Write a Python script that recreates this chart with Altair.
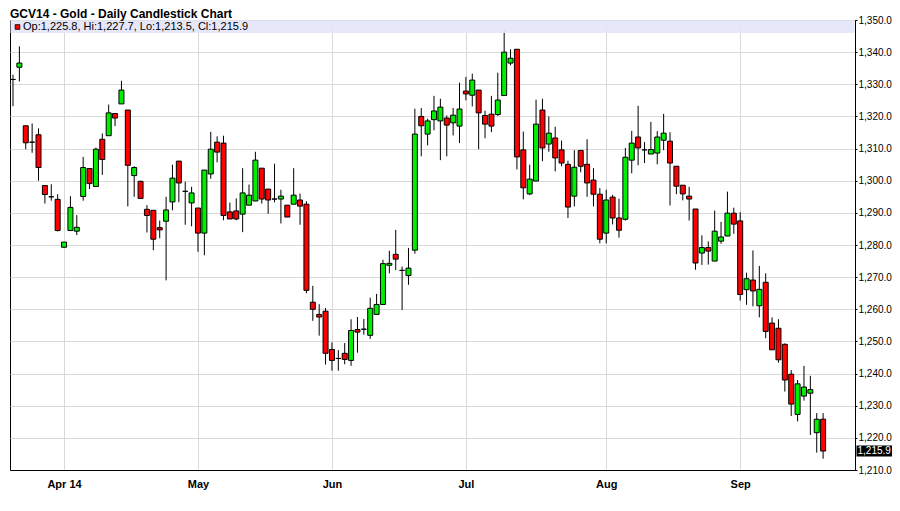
import altair as alt
import pandas as pd

# Daily OHLC values, Mar 20 .. Sep 19, 2014
opens = [1331.5, 1335.3, 1317.1, 1312.0, 1314.3, 1298.5, 1295.0, 1294.2, 1279.3, 1284.5,
         1284.3, 1295.1, 1303.8, 1298.2, 1312.9, 1314.0, 1320.9, 1323.9, 1322.0, 1301.6,
         1299.8, 1291.1, 1290.8, 1285.4, 1287.4, 1293.4, 1306.1, 1296.7, 1293.1, 1291.5,
         1283.7, 1302.1, 1312.0, 1311.7, 1290.3, 1290.6, 1289.6, 1292.4, 1293.7, 1303.9,
         1297.4, 1294.3, 1294.3, 1292.4, 1292.7, 1294.0, 1292.7, 1262.2, 1258.4, 1259.4,
         1247.5, 1244.7, 1246.3, 1244.1, 1253.7, 1253.8, 1251.9, 1258.4, 1261.5, 1273.7,
         1277.1, 1272.1, 1270.5, 1278.4, 1320.0, 1314.5, 1319.0, 1318.6, 1319.5, 1318.0,
         1317.0, 1327.9, 1326.6, 1328.2, 1320.3, 1320.7, 1320.6, 1326.5, 1336.6, 1340.9,
         1309.6, 1295.9, 1299.9, 1322.0, 1311.4, 1313.3, 1309.6, 1305.1, 1295.2, 1309.4,
         1305.1, 1300.2, 1295.8, 1283.7, 1294.9, 1288.4, 1288.0, 1306.4, 1313.6, 1309.6,
         1308.3, 1308.6, 1312.6, 1312.3, 1304.5, 1298.6, 1295.2, 1291.2, 1277.5, 1279.2,
         1275.0, 1281.2, 1282.8, 1289.9, 1287.5, 1266.1, 1269.1, 1261.1, 1268.4, 1255.7,
         1254.1, 1249.1, 1239.8, 1227.3, 1233.0, 1233.9, 1221.6, 1225.8]
highs = [1333.0, 1341.8, 1317.1, 1317.8, 1316.3, 1298.5, 1298.9, 1295.8, 1280.9, 1295.2,
         1289.3, 1307.4, 1303.8, 1310.3, 1314.7, 1323.7, 1320.9, 1331.1, 1322.0, 1304.5,
         1300.0, 1292.4, 1290.8, 1287.6, 1295.0, 1305.0, 1306.1, 1299.7, 1298.1, 1291.5,
         1303.3, 1315.2, 1313.8, 1314.0, 1293.2, 1294.5, 1303.9, 1298.8, 1309.0, 1303.9,
         1297.4, 1305.3, 1297.2, 1292.4, 1303.9, 1296.0, 1293.6, 1267.3, 1261.6, 1260.4,
         1249.7, 1247.3, 1249.5, 1256.9, 1257.6, 1257.0, 1263.6, 1264.8, 1275.4, 1278.2,
         1284.7, 1273.3, 1279.1, 1322.4, 1322.6, 1319.3, 1326.4, 1325.5, 1320.3, 1322.6,
         1330.5, 1332.3, 1333.3, 1328.2, 1321.8, 1326.4, 1333.6, 1346.9, 1340.9, 1340.9,
         1315.3, 1305.0, 1325.2, 1325.5, 1320.0, 1316.8, 1312.5, 1306.2, 1309.5, 1309.6,
         1312.9, 1303.9, 1297.7, 1297.2, 1295.6, 1294.4, 1310.2, 1315.5, 1323.3, 1312.0,
         1318.3, 1315.4, 1320.8, 1315.1, 1304.5, 1298.6, 1298.1, 1291.2, 1283.0, 1281.1,
         1290.7, 1287.2, 1296.6, 1291.6, 1290.2, 1271.4, 1278.3, 1273.5, 1271.2, 1257.5,
         1256.9, 1249.4, 1241.1, 1238.0, 1242.4, 1239.3, 1227.7, 1227.7]
lows = [1323.2, 1330.9, 1309.8, 1308.7, 1300.0, 1292.9, 1293.8, 1284.2, 1279.3, 1284.5,
        1283.1, 1293.8, 1297.4, 1298.2, 1301.8, 1314.0, 1317.0, 1323.9, 1292.0, 1295.0,
        1294.5, 1283.9, 1278.4, 1282.1, 1269.0, 1290.8, 1293.3, 1286.3, 1285.8, 1277.9,
        1276.8, 1300.6, 1305.7, 1287.7, 1288.1, 1287.7, 1284.0, 1292.4, 1293.7, 1292.9,
        1289.7, 1293.3, 1286.7, 1288.7, 1292.7, 1286.3, 1265.0, 1256.4, 1251.8, 1242.8,
        1240.9, 1240.9, 1242.9, 1242.4, 1246.5, 1252.1, 1250.8, 1258.4, 1261.5, 1271.2,
        1272.2, 1259.8, 1267.6, 1277.3, 1307.6, 1311.0, 1315.7, 1306.4, 1307.6, 1314.1,
        1311.7, 1325.0, 1323.1, 1309.8, 1313.2, 1315.1, 1320.1, 1326.5, 1335.9, 1303.5,
        1294.2, 1295.5, 1299.9, 1306.1, 1309.0, 1302.9, 1304.5, 1288.4, 1292.0, 1302.6,
        1295.0, 1292.0, 1280.5, 1280.5, 1286.4, 1282.3, 1287.6, 1302.3, 1304.8, 1305.5,
        1308.3, 1305.1, 1309.5, 1292.3, 1295.8, 1293.9, 1287.6, 1272.3, 1273.8, 1273.9,
        1275.0, 1280.4, 1282.8, 1283.5, 1262.7, 1261.4, 1260.9, 1257.5, 1251.0, 1247.4,
        1243.4, 1234.4, 1226.8, 1225.1, 1231.6, 1220.9, 1215.4, 1213.5]
closes = [1331.5, 1336.6, 1311.8, 1312.0, 1304.1, 1295.7, 1295.0, 1284.5, 1280.9, 1291.7,
          1285.5, 1304.1, 1299.1, 1309.8, 1306.6, 1321.1, 1319.5, 1328.2, 1304.8, 1304.1,
          1294.5, 1289.2, 1281.8, 1284.7, 1290.9, 1300.8, 1299.3, 1296.7, 1296.2, 1283.7,
          1303.3, 1309.8, 1308.9, 1289.2, 1288.1, 1288.1, 1296.2, 1295.5, 1306.4, 1294.3,
          1294.0, 1294.3, 1295.2, 1288.7, 1295.5, 1292.1, 1265.9, 1260.0, 1257.6, 1246.3,
          1244.1, 1244.7, 1244.4, 1253.4, 1252.9, 1253.8, 1260.3, 1261.5, 1274.2, 1274.3,
          1275.6, 1272.1, 1272.8, 1314.5, 1317.1, 1318.6, 1321.7, 1322.9, 1317.3, 1320.4,
          1322.3, 1327.0, 1331.3, 1321.1, 1317.6, 1317.0, 1325.1, 1340.0, 1338.1, 1307.4,
          1297.8, 1300.5, 1317.6, 1310.2, 1314.8, 1307.1, 1305.5, 1291.8, 1304.2, 1304.5,
          1299.3, 1295.8, 1281.8, 1294.0, 1288.4, 1284.6, 1307.3, 1311.7, 1310.2, 1309.6,
          1309.7, 1313.6, 1314.8, 1305.5, 1298.3, 1295.9, 1294.3, 1274.4, 1279.2, 1278.1,
          1284.3, 1282.5, 1289.9, 1286.5, 1264.6, 1269.5, 1265.7, 1266.2, 1253.1, 1247.4,
          1244.3, 1238.0, 1230.5, 1236.8, 1235.8, 1235.0, 1225.8, 1215.9]

# First trading day of each month (index into the series) and its label
month_ticks = [8, 29, 50, 71, 93, 114]
month_labels = ["Apr 14", "May", "Jun", "Jul", "Aug", "Sep"]
y_ticks = list(range(1210, 1351, 10))

title_text = "GCV14 - Gold - Daily Candlestick Chart"

df = pd.DataFrame({"i": list(range(len(opens))), "open": opens, "high": highs,
                   "low": lows, "close": closes})
df["dir"] = ["up" if c > o else "down" for o, c in zip(opens, closes)]

last = df.tail(1).copy()
legend_str = "Op:{:,.1f}, Hi:{:,.1f}, Lo:{:,.1f}, Cl:{:,.1f}".format(
    opens[-1], highs[-1], lows[-1], closes[-1])
info = pd.DataFrame({"t": [legend_str], "title": [title_text]})

W, H = 845, 450
xscale = alt.Scale(domain=[-0.47, 132.0], nice=False, zero=False, padding=0)
yscale = alt.Scale(domain=[1210, 1350], nice=False, zero=False, padding=0)

label_expr = ""
for v, lab in zip(month_ticks, month_labels):
    label_expr += "datum.value == {} ? '{}' : ".format(v, lab)
label_expr += "''"

grid_c = "#d9d9d9"

xaxis = alt.Axis(values=month_ticks, labelExpr=label_expr, grid=True,
                 gridColor=grid_c, ticks=False, domainColor="black",
                 labelFont="Liberation Sans", labelFontWeight="bold",
                 labelFontSize=11, labelColor="black", labelPadding=8,
                 labelOverlap=False, title=None)
yaxis = alt.Axis(orient="right", values=y_ticks, format=",.1f", grid=True,
                 gridColor=grid_c, domainColor="black", tickColor="black",
                 tickSize=2, labelFont="Liberation Sans", labelFontSize=10,
                 labelColor="black", labelPadding=1, labelOverlap=False,
                 title=None)

wicks = alt.Chart(df).mark_rule(color="black", strokeWidth=1).encode(
    x=alt.X("i:Q", scale=xscale, axis=xaxis),
    y=alt.Y("low:Q", scale=yscale, axis=yaxis),
    y2="high:Q",
)

bodies = alt.Chart(df).mark_bar(size=5, stroke="black", strokeWidth=1).encode(
    x=alt.X("i:Q", scale=xscale, axis=xaxis),
    y=alt.Y("open:Q", scale=yscale, axis=yaxis),
    y2="close:Q",
    color=alt.Color("dir:N", scale=alt.Scale(domain=["up", "down"],
                                             range=["#00ee00", "#ff0000"]), legend=None),
)

band = alt.Chart(info).mark_rect(fill="#e4e4fa", opacity=0.9).encode(
    x=alt.value(0.5), x2=alt.value(W - 0.5), y=alt.value(0.5), y2=alt.value(13)
)
band_square = alt.Chart(info).mark_point(shape="square", filled=True, fill="#ff0000",
                                         stroke="black", strokeWidth=0.8, size=22,
                                         opacity=1).encode(
    x=alt.value(7.5), y=alt.value(7)
)
band_text = alt.Chart(info).mark_text(align="left", baseline="middle", fontSize=11,
                                      font="Liberation Sans", color="black").encode(
    x=alt.value(13), y=alt.value(7), text="t:N"
)
title_mark = alt.Chart(info).mark_text(align="left", baseline="alphabetic", fontSize=12,
                                       fontWeight="bold", font="Liberation Sans",
                                       color="black").encode(
    x=alt.value(0), y=alt.value(-2.5), text="title:N"
)

last_box = alt.Chart(last).mark_rect(color="black", yOffset=-5.5, y2Offset=5.5).encode(
    x=alt.value(W + 1.5), x2=alt.value(W + 37), y=alt.Y("close:Q", scale=yscale, axis=yaxis),
    y2="close:Q"
)
last_text = alt.Chart(last).mark_text(align="left", baseline="middle", fontSize=10,
                                      font="Liberation Sans", color="white").encode(
    x=alt.value(W + 2.5), y=alt.Y("close:Q", scale=yscale, axis=yaxis),
    text=alt.Text("close:Q", format=",.1f")
)

chart = alt.layer(wicks, bodies, band, band_square, band_text, title_mark,
                  last_box, last_text).properties(
    width=W, height=H,
    autosize=alt.AutoSizeParams(type="none"),
    padding={"left": 2, "top": 12, "right": 37, "bottom": 30},
    background="white",
).configure_view(stroke="black", strokeWidth=1)

chart.save("out.html", embed_options={"renderer": "svg", "actions": False})
